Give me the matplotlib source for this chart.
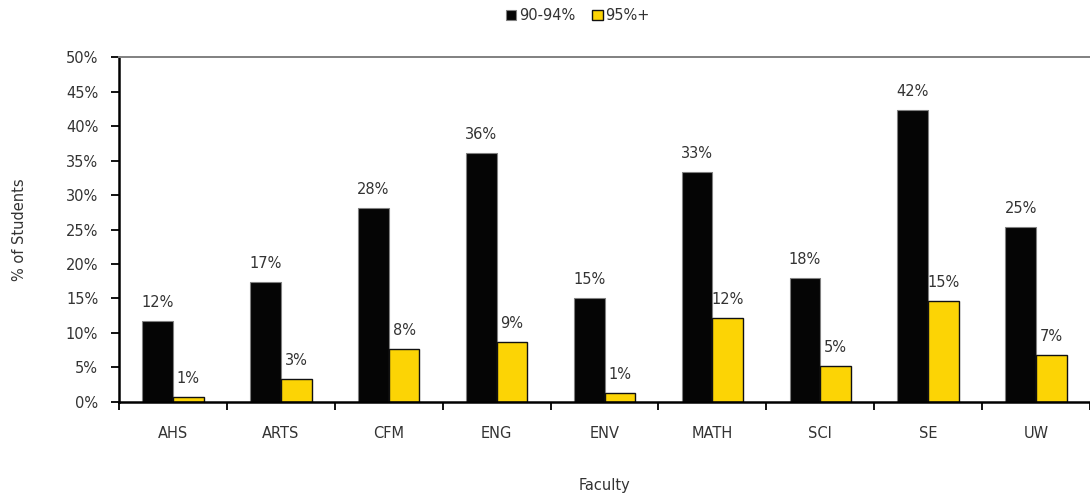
import numpy as np
import matplotlib.pyplot as plt
from matplotlib.ticker import PercentFormatter, MultipleLocator, FixedLocator

faculties = ['AHS', 'ARTS', 'CFM', 'ENG', 'ENV', 'MATH', 'SCI', 'SE', 'UW']
pct_90_94 = [11.7, 17.4, 28.1, 36.1, 15.1, 33.3, 18.0, 42.3, 25.4]
pct_95_plus = [0.7, 3.3, 7.7, 8.7, 1.3, 12.2, 5.2, 14.6, 6.8]
series_names = ['90-94%', '95%+']

plt.rcParams['font.family'] = 'DejaVu Sans'
text_color = '#333333'
fs = 10.5

fig = plt.figure(figsize=(10.9, 4.95), dpi=100)
ax = fig.add_axes([0.1092, 0.1879, 0.8908, 0.6969])

x = np.arange(len(faculties))
w = 0.285
b1 = ax.bar(x - w / 2, pct_90_94, w, color='#050505', edgecolor='#808080',
            linewidth=0.8, label=series_names[0])
b2 = ax.bar(x + w / 2, pct_95_plus, w, color='#fcd405', edgecolor='#111111',
            linewidth=1.0, label=series_names[1])

for bars in (b1, b2):
    for r in bars:
        ax.annotate(f'{r.get_height():.0f}%',
                    (r.get_x() + r.get_width() / 2, r.get_height()),
                    xytext=(0, 8), textcoords='offset points',
                    ha='center', va='bottom', fontsize=fs, color=text_color)

ax.set_xlim(-0.5, len(faculties) - 0.5)
ax.set_ylim(0, 50)
ax.yaxis.set_major_locator(MultipleLocator(5))
ax.yaxis.set_major_formatter(PercentFormatter(decimals=0))

ax.set_xticks(x)
ax.set_xticklabels(faculties)
ax.xaxis.set_minor_locator(FixedLocator(np.arange(-0.5, len(faculties), 1.0)))
ax.tick_params(axis='x', which='major', length=0, pad=17, labelsize=fs,
               labelcolor=text_color)
ax.tick_params(axis='x', which='minor', length=6, width=1.3, direction='out')
ax.tick_params(axis='y', length=6, width=1.3, labelsize=fs,
               labelcolor=text_color, pad=9)

for side in ('left', 'bottom'):
    ax.spines[side].set_linewidth(1.8)
ax.spines['right'].set_visible(False)
ax.spines['top'].set_color('#808080')
ax.spines['top'].set_linewidth(1.4)

ax.set_ylabel('% of Students', fontsize=fs, color=text_color, labelpad=28)
ax.set_xlabel('Faculty', fontsize=fs, color=text_color, labelpad=27)

fig.legend(handles=[b1, b2], loc='upper center', bbox_to_anchor=(0.53, 1.01),
           ncol=2, frameon=False, fontsize=fs, handlelength=0.7,
           handleheight=0.7, handletextpad=0.2, columnspacing=1.2,
           labelcolor=text_color)

fig.savefig('out.png', dpi=100)
